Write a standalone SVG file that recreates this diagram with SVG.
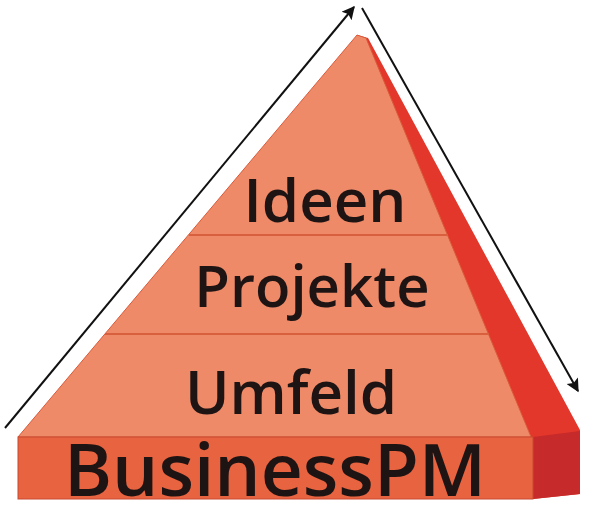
<svg xmlns="http://www.w3.org/2000/svg" width="609" height="508" viewBox="0 0 609 508">
<defs>
<style>
.lbl{font-family:"Open Sans","Noto Sans","DejaVu Sans",sans-serif;font-weight:600;fill:#1e1414;text-anchor:middle}
.conn{stroke:#111;stroke-width:2;fill:none}
.div{stroke:#d8603e;stroke-width:2}
</style>
<marker id="ah" viewBox="0 0 10 10" refX="9" refY="5" markerWidth="15" markerHeight="13" markerUnits="userSpaceOnUse" orient="auto"><path d="M0,0 L10,5 L0,10 L2,5 z" fill="#111"/></marker>
</defs>
<rect width="609" height="508" fill="#fff"/>
<g id="pyramid">
<polygon points="357,35 368,38 580,430 580,494 533,499 531,437" fill="#e3372b"/>
<polygon points="533,437 580,431 580,494 533,499" fill="#c62a2a"/>
<polygon points="357,35 366,38 531,437 18,437" fill="#ef8a68" stroke="#d85a3a" stroke-width="1"/>
</g>
<g id="ideen">
<text class="lbl" x="325" y="222" font-size="60">Ideen</text>
</g>
<g id="projekte">
<line class="div" x1="189" y1="235" x2="448" y2="235"/>
<text class="lbl" x="312" y="307" font-size="58">Projekte</text>
</g>
<g id="umfeld">
<line class="div" x1="105" y1="334" x2="489" y2="334"/>
<text class="lbl" x="291" y="414" font-size="60">Umfeld</text>
</g>
<g id="businesspm">
<rect x="18" y="437" width="515" height="62" fill="#e8633f" stroke="#c84a30" stroke-width="1"/>
<text class="lbl" x="275" y="496" font-size="73">BusinessPM</text>
</g>
<g id="connectors">
<line class="conn" x1="5" y1="428" x2="354" y2="7" marker-end="url(#ah)"/>
<line class="conn" x1="362" y1="8" x2="578" y2="391" marker-end="url(#ah)"/>
</g>
</svg>
